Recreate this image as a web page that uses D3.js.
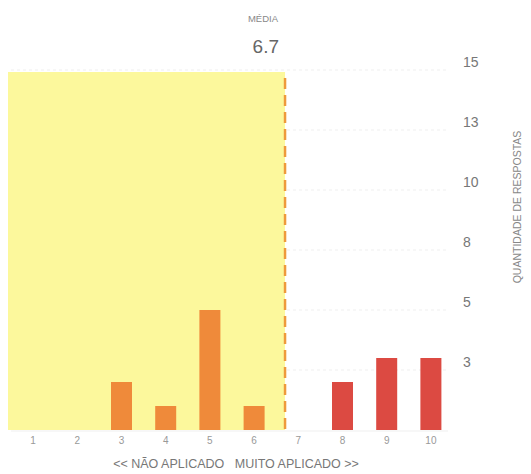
<!DOCTYPE html>
<html><head><meta charset="utf-8">
<script src="https://cdn.jsdelivr.net/npm/d3@7"></script>
<style>html,body{margin:0;padding:0;background:#fff;}svg{display:block;font-family:"Liberation Sans",Arial,sans-serif;}</style>
</head><body>
<svg id="c" width="531" height="474"></svg>
<script>
const categories = [1,2,3,4,5,6,7,8,9,10];
const counts = [0,0,2,1,5,1,0,2,3,3];
const yTicks = [2.5,5,7.5,10,12.5,15];
const meanValue = 6.7;
const xTitle = "<< NÃO APLICADO   MUITO APLICADO >>";
const yTitle = "QUANTIDADE DE RESPOSTAS";

const svg = d3.select("#c");
const x = d3.scaleLinear().domain([0.5,10.5]).range([11,453]);
const y = d3.scaleLinear().domain([0,15]).range([430,70]);
const barW = 21;

// gridlines (very faint)
svg.append("g").selectAll("line").data(yTicks).join("line")
  .attr("x1", x(0.5)).attr("x2", 448)
  .attr("y1", d=>y(d)).attr("y2", d=>y(d))
  .attr("stroke", "#efefef").attr("stroke-width", 1).attr("stroke-dasharray","3,3");
svg.append("line").attr("x1", x(0.5)).attr("x2", 448).attr("y1", y(0)+1).attr("y2", y(0)+1)
  .attr("stroke", "#efefef");

// yellow region up to the mean
svg.append("rect").attr("x", x(0.5)-3).attr("y", y(15)+2)
  .attr("width", x(meanValue)-x(0.5)+3).attr("height", y(0)-y(15)-2)
  .attr("fill", "#fcf89c");

// bars
svg.append("g").selectAll("rect").data(categories).join("rect")
  .attr("x", d=>x(d)-barW/2).attr("width", barW)
  .attr("y", (d,i)=>y(counts[i])).attr("height", (d,i)=>y(0)-y(counts[i]))
  .attr("fill", d=> d < meanValue ? "#ef8a3a" : "#dc4a42");

// mean dashed line
svg.append("line").attr("x1", x(meanValue)).attr("x2", x(meanValue))
  .attr("y1", y(15)+8).attr("y2", y(0))
  .attr("stroke", "#ee9a3c").attr("stroke-width", 2.5).attr("stroke-dasharray","11,6");

// y tick labels
svg.append("g").selectAll("text").data(yTicks).join("text")
  .attr("x", 463).attr("y", d=>y(d)-7).attr("dominant-baseline","middle")
  .attr("font-size", 14).attr("fill", "#777").text(d=>Math.round(d));

// y title
svg.append("text").attr("transform", "translate(521,207) rotate(-90)")
  .attr("text-anchor","middle").attr("font-size", 10.5).attr("fill","#888").text(yTitle);

// x tick labels
svg.append("g").selectAll("text").data(categories).join("text")
  .attr("x", d=>x(d)).attr("y", 444).attr("text-anchor","middle")
  .attr("font-size", 10).attr("fill", "#999").text(d=>d);

// x title
svg.append("text").attr("x", 236).attr("y", 468).attr("text-anchor","middle")
  .attr("font-size", 12.5).attr("fill","#777").attr("xml:space","preserve").style("white-space","pre").text(xTitle);

// mean labels
svg.append("text").attr("x", 278).attr("y", 22).attr("text-anchor","end")
  .attr("font-size", 9.5).attr("fill","#888").text("MÉDIA");
svg.append("text").attr("x", 279).attr("y", 53).attr("text-anchor","end")
  .attr("font-size", 19).attr("fill","#666").text(meanValue.toFixed(1));
</script>
</body></html>
